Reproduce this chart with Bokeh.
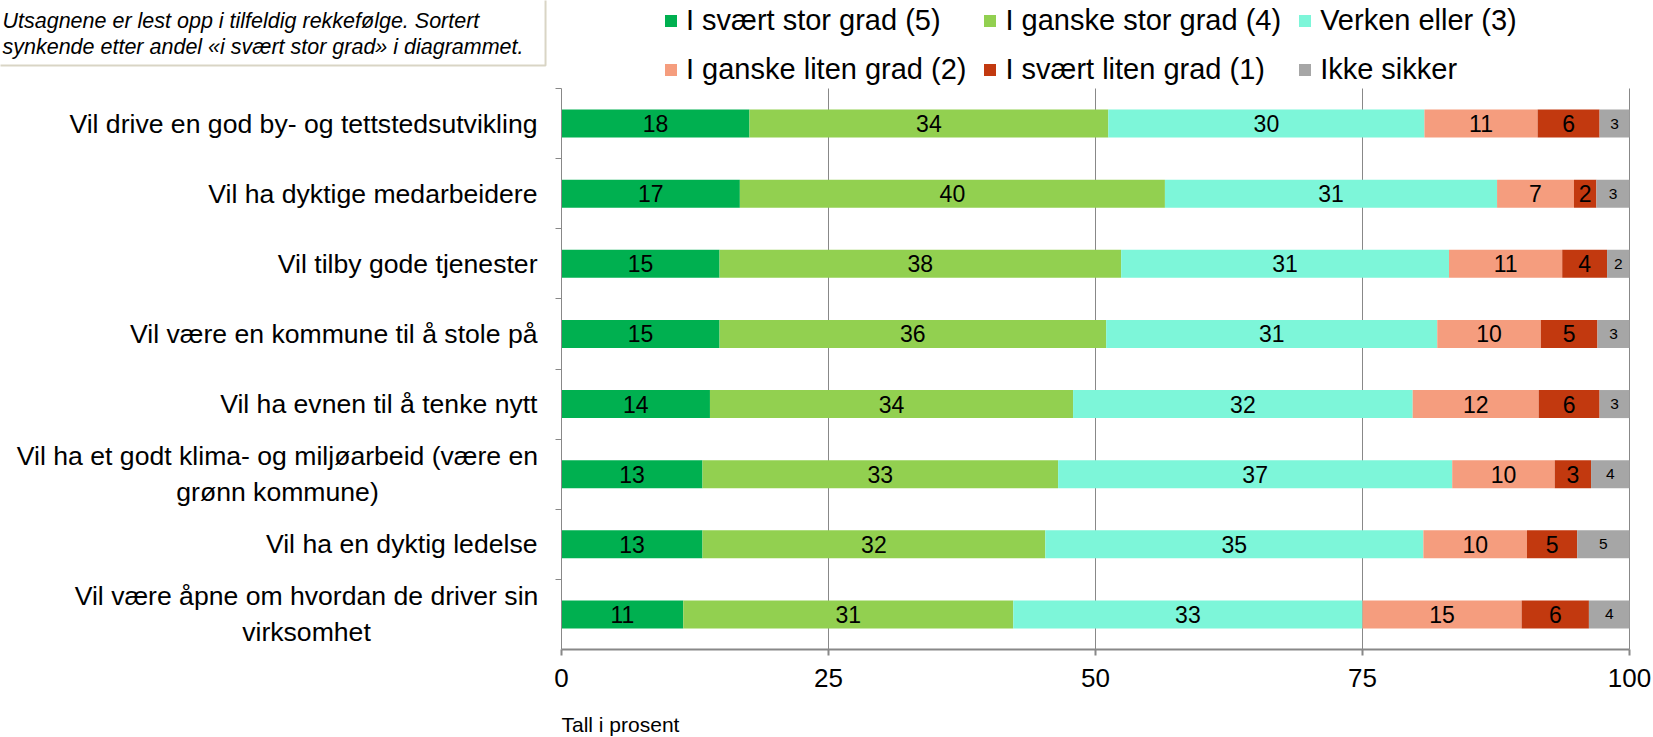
from bokeh.plotting import figure
from bokeh.models import (FixedTicker, Legend, LegendItem, Label, ColumnDataSource, Range1d)
from bokeh.embed import file_html
from bokeh.resources import INLINE
from bokeh.core.properties import value

# ---------------- data ----------------
statements = [
    "Vil drive en god by- og tettstedsutvikling",
    "Vil ha dyktige medarbeidere",
    "Vil tilby gode tjenester",
    "Vil være en kommune til å stole på",
    "Vil ha evnen til å tenke nytt",
    "Vil ha et godt klima- og miljøarbeid (være en\ngrønn kommune)",
    "Vil ha en dyktig ledelse",
    "Vil være åpne om hvordan de driver sin\nvirksomhet",
]
series_names = ["I svært stor grad (5)", "I ganske stor grad (4)", "Verken eller (3)",
                "I ganske liten grad (2)", "I svært liten grad (1)", "Ikke sikker"]
svaert_stor = [17.6, 16.7, 14.8, 14.8, 13.9, 13.2, 13.2, 11.4]
ganske_stor = [33.6, 39.8, 37.6, 36.2, 34.0, 33.3, 32.1, 30.9]
verken = [29.6, 31.1, 30.7, 31.0, 31.8, 36.9, 35.4, 32.7]
ganske_liten = [10.6, 7.2, 10.6, 9.7, 11.8, 9.6, 9.7, 14.9]
svaert_liten = [5.8, 2.1, 4.2, 5.3, 5.7, 3.4, 4.7, 6.3]
ikke_sikker = [2.8, 3.1, 2.1, 3.0, 2.8, 3.6, 4.9, 3.8]
x_ticks = [0, 25, 50, 75, 100]
note_text = "Utsagnene er lest opp i tilfeldig rekkefølge. Sortert\nsynkende etter andel «i svært stor grad» i diagrammet."
axis_note = "Tall i prosent"

colors = ["#00B050", "#92D050", "#7DF6D9", "#F59D7E", "#C2390F", "#A6A6A6"]
FONT = "Liberation Sans"
GRID = "#888888"
CAT_FONT = "26.6px"

# ---------------- layout (pixels) ----------------
W, H = 1652, 736
X0, X100 = 561, 1629      # pixel position of 0 and 100
Y_TOP, Y_BOT = 88, 649    # pixel span of the category area
LABEL_GAP = 18            # standoff of category labels (added to the 6px tick)
WRAP_CENTER_PX = {5: 277, 7: 306}   # centre of the two-line (centred) category labels

series = [svaert_stor, ganske_stor, verken, ganske_liten, svaert_liten, ikke_sikker]
keys = ["s5", "s4", "s3", "s2", "s1", "s0"]
n = len(statements)
ypos = [n - i - 0.5 for i in range(n)]

sx = (X100 - X0) / 100.0
sy = (Y_BOT - Y_TOP) / n
x_range = Range1d(-X0 / sx, 100 + (W - X100) / sx)
y_range = Range1d(-(H - Y_BOT) / sy, n + Y_TOP / sy)

data = {"y": ypos}
for k, s in zip(keys, series):
    data[k] = s
source = ColumnDataSource(data)

p = figure(width=W, height=H, output_backend="svg", toolbar_location=None,
           x_range=x_range, y_range=y_range, min_border=0)
p.title.visible = False
p.outline_line_color = None
p.background_fill_color = "white"
p.xgrid.grid_line_color = None
p.ygrid.grid_line_color = None

# vertical grid lines within the category area
grid_x = [t for t in x_ticks if t > 0]
p.segment(x0=grid_x, x1=grid_x, y0=[0] * len(grid_x), y1=[n] * len(grid_x),
          line_color=GRID, line_width=1)

renderers = p.hbar_stack(keys, y="y", height=0.4, source=source, color=colors, line_width=0)

# data labels
left = [0.0] * n
for idx, (k, s) in enumerate(zip(keys, series)):
    xs = [l + v / 2 for l, v in zip(left, s)]
    texts = [f"{v:.0f}" for v in s]
    left = [l + v for l, v in zip(left, s)]
    small = idx == len(series) - 1
    p.text(x=xs, y=ypos, text=texts, text_align="center", text_baseline="middle",
           text_font=value(FONT), text_font_size="15.5px" if small else "23px",
           text_color="#000000")

# axes
xa = p.xaxis[0]
xa.fixed_location = 0
xa.bounds = (0, 100)
xa.ticker = FixedTicker(ticks=x_ticks)
xa.axis_line_color = GRID
xa.axis_line_width = 2
xa.major_tick_line_color = GRID
xa.major_tick_line_width = 2
xa.major_tick_out = 6
xa.major_tick_in = 0
xa.minor_tick_line_color = None
xa.major_label_standoff = 13
xa.major_label_text_font = FONT
xa.major_label_text_font_size = "26px"
xa.major_label_text_color = "#000000"

ya = p.yaxis[0]
ya.fixed_location = 0
ya.bounds = (0, n)
ya.ticker = FixedTicker(ticks=ypos, minor_ticks=list(range(1, n + 1)))
ya.major_label_overrides = {y: ("" if i in WRAP_CENTER_PX else s)
                            for i, (y, s) in enumerate(zip(ypos, statements))}
ya.axis_line_color = GRID
ya.major_tick_line_color = None
ya.major_tick_out = 0
ya.major_tick_in = 0
ya.minor_tick_line_color = GRID
ya.minor_tick_out = 6
ya.minor_tick_in = 0
ya.major_label_standoff = LABEL_GAP
ya.major_label_text_font = FONT
ya.major_label_text_font_size = CAT_FONT
ya.major_label_text_color = "#000000"

# two-line category labels, lines centred on each other
wrap_idx = sorted(WRAP_CENTER_PX)
p.text(x=[(WRAP_CENTER_PX[i] - X0) / sx for i in wrap_idx],
       y=[ypos[i] for i in wrap_idx],
       text=[statements[i] for i in wrap_idx],
       text_align="center", text_baseline="middle", text_line_height=1.2,
       text_font=value(FONT), text_font_size=CAT_FONT, text_color="#000000")

# legend
items = [LegendItem(label=nm, renderers=[r]) for nm, r in zip(series_names, renderers)]
legend = Legend(items=items, orientation="horizontal", ncols=3,
                location=(663, H - 86), padding=0, margin=0, spacing=16,
                border_line_color=None, background_fill_alpha=0,
                glyph_width=15, glyph_height=15, label_standoff=8, label_height=30,
                label_text_font=FONT, label_text_font_size="29px", label_text_color="#000000")
p.add_layout(legend, "center")

# note box (top-left)
note = Label(x=-8, y=H + 2, x_units="screen", y_units="screen", text=note_text,
             text_align="left", text_baseline="top", text_font=FONT, text_font_style="italic",
             text_font_size="21.5px", text_color="#000000", text_line_height=1.12,
             background_fill_color="white", border_line_color="#D9D5C5", border_line_width=2,
             padding=dict(left=10, right=22, top=10, bottom=6))
p.add_layout(note)

title_lbl = Label(x=X0, y=H - 724, x_units="screen", y_units="screen", text=axis_note,
                  text_align="left", text_baseline="middle", text_font=FONT,
                  text_font_size="21px", text_color="#000000")
p.add_layout(title_lbl)

open("out.html", "w").write(file_html(p, INLINE))
